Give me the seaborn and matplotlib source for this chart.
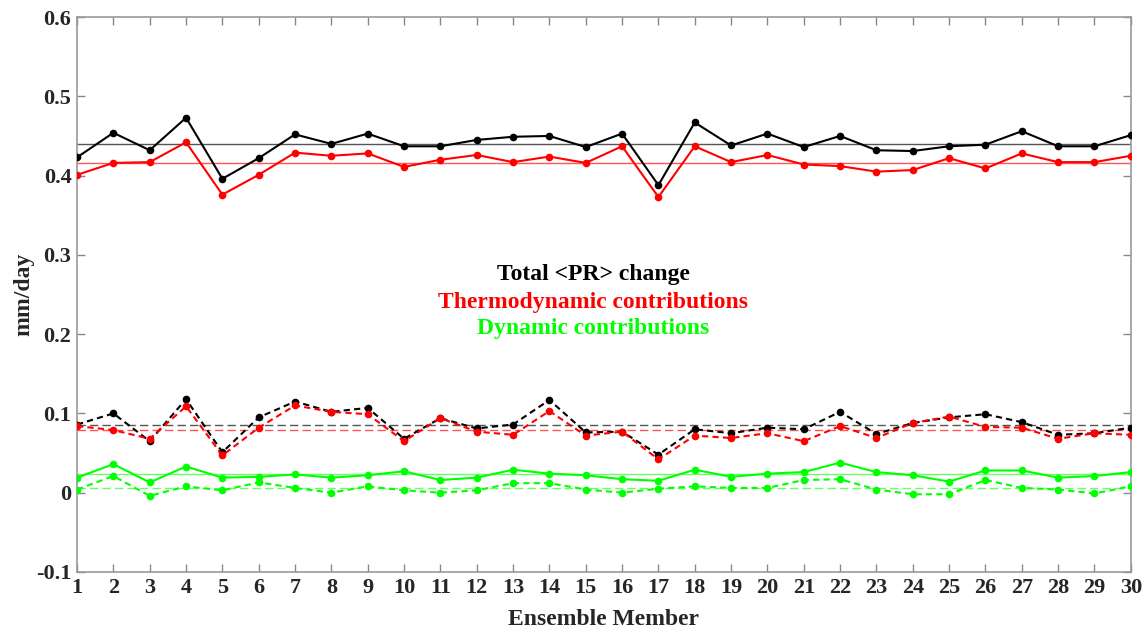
import numpy as np
import pandas as pd
import matplotlib
matplotlib.use("Agg")
import matplotlib.pyplot as plt
import seaborn as sns

members = list(range(1, 31))

total_land = [0.423, 0.454, 0.432, 0.473, 0.396, 0.422, 0.452, 0.440, 0.453, 0.437,
              0.437, 0.445, 0.449, 0.450, 0.436, 0.453, 0.388, 0.467, 0.438, 0.453,
              0.436, 0.450, 0.432, 0.431, 0.437, 0.439, 0.456, 0.437, 0.437, 0.451]
thermo_land = [0.401, 0.416, 0.417, 0.442, 0.376, 0.401, 0.429, 0.425, 0.428, 0.411,
               0.420, 0.426, 0.417, 0.424, 0.416, 0.437, 0.373, 0.437, 0.417, 0.426,
               0.414, 0.412, 0.405, 0.407, 0.422, 0.409, 0.428, 0.417, 0.417, 0.425]
total_ocean = [0.086, 0.100, 0.065, 0.118, 0.051, 0.095, 0.115, 0.102, 0.107, 0.068,
               0.094, 0.081, 0.086, 0.117, 0.076, 0.077, 0.048, 0.080, 0.075, 0.082,
               0.080, 0.102, 0.074, 0.088, 0.095, 0.099, 0.089, 0.073, 0.075, 0.082]
thermo_ocean = [0.084, 0.079, 0.068, 0.109, 0.047, 0.082, 0.110, 0.102, 0.099, 0.065,
                0.094, 0.077, 0.073, 0.103, 0.072, 0.077, 0.042, 0.072, 0.069, 0.075,
                0.065, 0.084, 0.069, 0.088, 0.096, 0.083, 0.082, 0.068, 0.075, 0.073]
dyn_land = [0.019, 0.036, 0.013, 0.033, 0.019, 0.020, 0.023, 0.019, 0.022, 0.027,
            0.016, 0.019, 0.029, 0.024, 0.022, 0.017, 0.015, 0.029, 0.020, 0.024,
            0.026, 0.038, 0.026, 0.022, 0.014, 0.028, 0.028, 0.019, 0.021, 0.026]
dyn_ocean = [0.004, 0.021, -0.004, 0.008, 0.003, 0.013, 0.006, 0.000, 0.008, 0.003,
             0.000, 0.003, 0.012, 0.012, 0.004, 0.000, 0.005, 0.008, 0.006, 0.006,
             0.016, 0.017, 0.004, -0.002, -0.002, 0.016, 0.006, 0.004, -0.001, 0.008]

mean_total_land = 0.440
mean_thermo_land = 0.416
mean_total_ocean = 0.086
mean_thermo_ocean = 0.079
mean_dyn_land = 0.023
mean_dyn_ocean = 0.006

y_ticks = [-0.1, 0, 0.1, 0.2, 0.3, 0.4, 0.5, 0.6]
y_ticklabels = ["-0.1", "0", "0.1", "0.2", "0.3", "0.4", "0.5", "0.6"]

sns.set_theme(style="white")
plt.rcParams['font.family'] = ['Liberation Serif', 'DejaVu Serif']
plt.rcParams['font.weight'] = 'bold'

fig = plt.figure(figsize=(11.48, 6.32), dpi=100)
ax = fig.add_axes([0.0671, 0.095, 0.985 - 0.0671, 0.973 - 0.095])

BLACK = "#000000"
RED = "#ff0000"
GREEN = "#00ff00"

series = [
    (total_land, BLACK, "-"),
    (thermo_land, RED, "-"),
    (total_ocean, BLACK, (0, (3, 2))),
    (thermo_ocean, RED, (0, (3, 2))),
    (dyn_land, GREEN, "-"),
    (dyn_ocean, GREEN, (0, (3, 2))),
]
means = [
    (mean_total_land, "#555555", "-"),
    (mean_thermo_land, "#ff5555", "-"),
    (mean_total_ocean, "#555555", (0, (6, 3))),
    (mean_thermo_ocean, "#ff5555", (0, (6, 3))),
    (mean_dyn_land, "#66ff66", "-"),
    (mean_dyn_ocean, "#66ff66", (0, (6, 3))),
]
for val, col, ls in means:
    ax.axhline(val, color=col, lw=1.0, ls=ls, zorder=1)

for vals, col, ls in series:
    df = pd.DataFrame({"member": members, "value": vals})
    sns.lineplot(data=df, x="member", y="value", ax=ax, color=col, lw=1.5,
                 marker="o", markersize=5.5, markeredgewidth=0, linestyle=ls,
                 dashes=False, zorder=3)
    ax.lines[-1].set_linestyle(ls)

ax.set_xlim(1, 30)
ax.set_ylim(-0.1, 0.6)
ax.set_xticks(members)
ax.set_xticklabels([str(m) for m in members])
ax.set_yticks(y_ticks)
ax.set_yticklabels(y_ticklabels)

for s in ax.spines.values():
    s.set_color("#999999")
    s.set_linewidth(1.2)
    s.set_visible(True)
ax.tick_params(axis="both", direction="in", length=6, width=1, color="#888888",
               top=True, right=True, bottom=True, left=True,
               labelsize=16, pad=4)
for lab in ax.get_xticklabels() + ax.get_yticklabels():
    lab.set_fontweight("bold")

ax.set_xlabel("Ensemble Member", fontsize=17, fontweight="bold", labelpad=8)
ax.set_ylabel("mm/day", fontsize=17, fontweight="bold", labelpad=1)

tx = 15.2
ax.text(tx, 0.2755, "Total <PR> change", color=BLACK, fontsize=17,
        fontweight="bold", ha="center", va="center")
ax.text(tx, 0.2405, "Thermodynamic contributions", color=RED, fontsize=17,
        fontweight="bold", ha="center", va="center")
ax.text(tx, 0.2065, "Dynamic contributions", color=GREEN, fontsize=17,
        fontweight="bold", ha="center", va="center")

fig.savefig("out.png", dpi=100, facecolor="white")
